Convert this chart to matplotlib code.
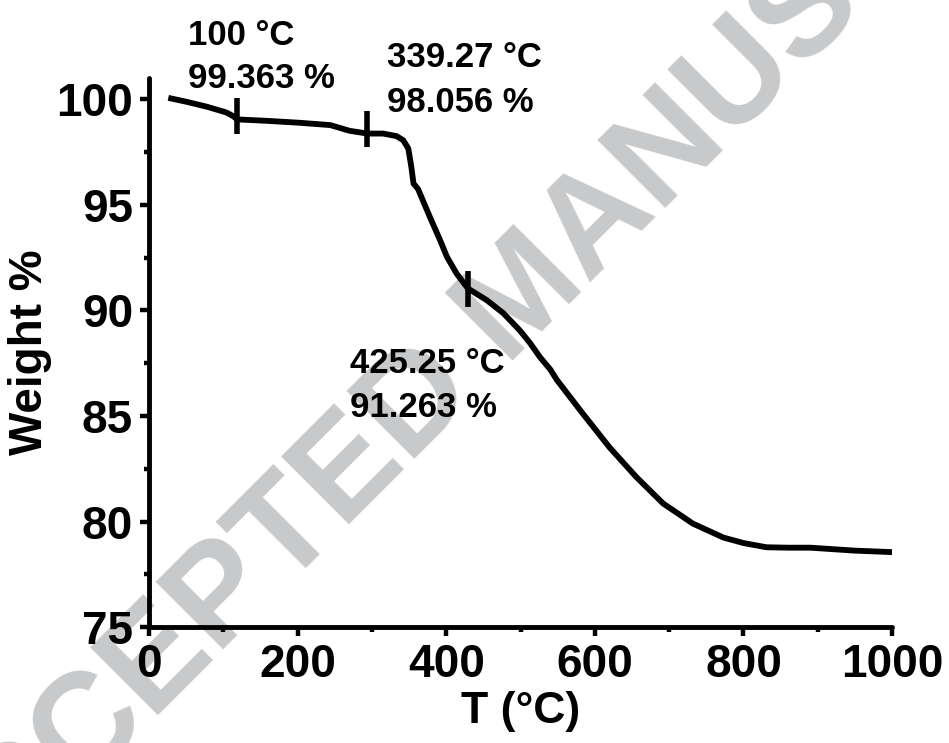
"""
TGA curve: weight loss vs temperature, with three marked points.
"""

import matplotlib
matplotlib.use("Agg")
import matplotlib.pyplot as plt
import matplotlib.ticker as mticker

plt.rcParams["font.family"] = ["Liberation Sans", "DejaVu Sans"]
plt.rcParams["font.weight"] = "bold"

# Data
temp = [26, 51, 78, 104, 112, 119, 160, 203, 244, 270, 294, 315, 333, 342,
        349, 353, 356, 362, 378, 392, 401, 414, 429, 455, 477, 499, 513, 526,
        540, 549, 584, 620, 656, 692, 732, 773, 800, 831, 860, 890, 950, 1000]
weight = [100.06, 99.87, 99.64, 99.37, 99.22, 99.04, 98.97, 98.88, 98.77,
          98.5, 98.37, 98.37, 98.25, 98.06, 97.66, 96.8, 96.0, 95.75, 94.42,
          93.3, 92.53, 91.74, 91.04, 90.47, 89.86, 89.05, 88.44, 87.79, 87.2,
          86.7, 85.1, 83.5, 82.1, 80.85, 79.9, 79.24, 78.98, 78.78, 78.76,
          78.76, 78.62, 78.55]

mark_t = [119, 294, 429]
mark_w = [99.19, 98.58, 91.0]
mark_temp_lbl = ["100 °C", "339.27 °C", "425.25 °C"]
mark_wt_lbl = ["99.363 %", "98.056 %", "91.263 %"]
# label anchor (x, baseline of 1st line, baseline of 2nd line) in data units
lbl_pos = [(52.5, 102.56, 100.52), (320, 101.52, 99.38), (270.5, 87.01, 84.93)]

fig = plt.figure(figsize=(9.49, 7.43), dpi=100)
ax = fig.add_axes([0.157, 0.156, 0.783, 0.739])
ax.patch.set_visible(False)

# watermark
ax.text(0.580, 0.565, "ACCEPTED MANUSCRIPT", transform=fig.transFigure,
        fontsize=100, fontweight="bold", color="#C8C9CB", rotation=45,
        ha="center", va="baseline", rotation_mode="anchor", zorder=0,
        clip_on=False)

ax.plot(temp, weight, color="black", lw=4.2, solid_joinstyle="round",
        solid_capstyle="butt", zorder=3)
ax.plot(mark_t, mark_w, ls="none", marker="|", markersize=26,
        markeredgewidth=4, color="black", zorder=4)

for (x, y1, y2), t1, t2 in zip(lbl_pos, mark_temp_lbl, mark_wt_lbl):
    ax.text(x, y1, t1, fontsize=25, fontweight="bold", va="baseline",
            ha="left", zorder=5)
    ax.text(x, y2, t2, fontsize=25, fontweight="bold", va="baseline",
            ha="left", zorder=5)

ax.set_xlim(0, 1000)
ax.set_ylim(75, 101)
ax.xaxis.set_major_locator(mticker.MultipleLocator(200))
ax.xaxis.set_minor_locator(mticker.MultipleLocator(100))
ax.yaxis.set_major_locator(mticker.FixedLocator([75, 80, 85, 90, 95, 100]))
ax.yaxis.set_minor_locator(mticker.FixedLocator([77.5, 82.5, 87.5, 92.5, 97.5]))

ax.spines[["top", "right"]].set_visible(False)
for s in ["bottom", "left"]:
    ax.spines[s].set_linewidth(3.5)
    ax.spines[s].set_capstyle("round")
ax.tick_params(which="major", direction="out", length=6.5, width=3.2,
               labelsize=33, pad=5)
ax.tick_params(which="minor", direction="out", length=3.5, width=3.2)

ax.set_xlabel("T (°C)", fontsize=32, fontweight="bold", labelpad=3)
ax.set_ylabel("Weight %", fontsize=33, fontweight="bold", labelpad=3)

fig.savefig("out.png", dpi=100)
